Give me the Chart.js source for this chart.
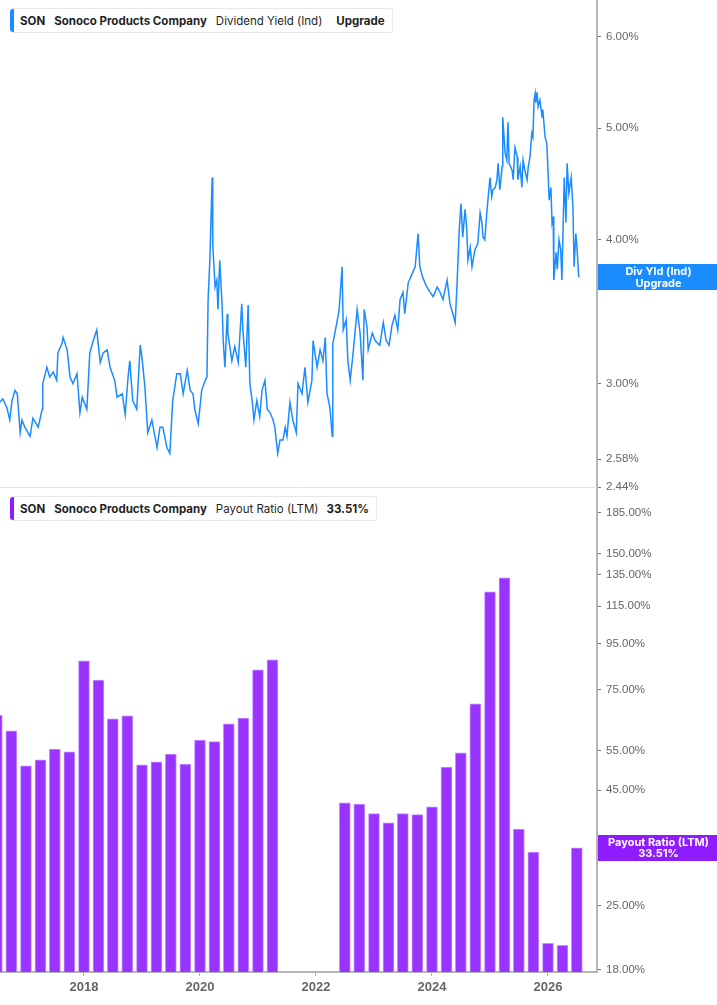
<!DOCTYPE html>
<html>
<head>
<meta charset="utf-8">
<script src="https://cdn.jsdelivr.net/npm/chart.js@4.4.1/dist/chart.umd.min.js"></script>
<style>
  html, body { margin: 0; padding: 0; background: #fff; }
  #wrap { position: relative; width: 717px; height: 1005px; overflow: hidden; }
  canvas { position: absolute; left: 0; }
  #yieldChart { top: 0; z-index: 2; }
  #payoutChart { top: 488px; z-index: 1; }
  .legend {
    position: absolute; left: 10px; height: 25px; box-sizing: border-box; z-index: 3;
    background: #fff; border: 1px solid #e9e9e9; border-left: none; border-radius: 3px;
    font-family: Inter, "Noto Sans", sans-serif; font-size: 11.5px; color: #1f1f1f;
    display: flex; align-items: center; padding: 0 7px 0 10px; white-space: nowrap;
  }
  .legend::before {
    content: ""; position: absolute; left: 0; top: 0; bottom: 0; width: 4px; border-radius: 3px 0 0 3px;
  }
  .legend.blue::before { background: #1a8cff; }
  .legend.purple::before { background: #8f1cff; }
  .legend b { font-weight: 700; }
  .legend span { margin-right: 9px; }
  .legend span:last-child { margin-right: 0; }
</style>
</head>
<body>
<div id="wrap">
  <canvas id="yieldChart" width="717" height="500"></canvas>
  <canvas id="payoutChart" width="717" height="517"></canvas>
  <div class="legend blue" style="top:8px;">
    <span><b>SON</b></span><span><b>Sonoco Products Company</b></span><span style="margin-right:14px">Dividend Yield (Ind)</span><span><b>Upgrade</b></span>
  </div>
  <div class="legend purple" style="top:496px;">
    <span><b>SON</b></span><span><b>Sonoco Products Company</b></span><span style="margin-right:8px">Payout Ratio (LTM)</span><span><b>33.51%</b></span>
  </div>
</div>
<script>
// Dividend yield (Ind), %
const yieldDates = [
  2016.55, 2016.60, 2016.67, 2016.72, 2016.76, 2016.81, 2016.85, 2016.90, 2016.93, 2016.98,
  2017.07, 2017.12, 2017.21, 2017.28, 2017.29, 2017.36, 2017.41, 2017.47, 2017.53, 2017.55,
  2017.62, 2017.64, 2017.71, 2017.76, 2017.81, 2017.88, 2017.93, 2017.97, 2018.05, 2018.10,
  2018.16, 2018.22, 2018.28, 2018.33, 2018.40, 2018.45, 2018.53, 2018.57, 2018.66, 2018.71,
  2018.76, 2018.79, 2018.84, 2018.91, 2018.97, 2019.00, 2019.05, 2019.10, 2019.17, 2019.26,
  2019.31, 2019.36, 2019.43, 2019.48, 2019.53, 2019.60, 2019.66, 2019.71, 2019.78, 2019.83,
  2019.88, 2019.91, 2019.97, 2020.03, 2020.09, 2020.12, 2020.14, 2020.17, 2020.21, 2020.22,
  2020.26, 2020.29, 2020.31, 2020.34, 2020.38, 2020.40, 2020.43, 2020.47, 2020.48, 2020.55,
  2020.60, 2020.66, 2020.72, 2020.74, 2020.79, 2020.83, 2020.86, 2020.90, 2020.93, 2020.98,
  2021.03, 2021.07, 2021.12, 2021.16, 2021.21, 2021.26, 2021.29, 2021.34, 2021.38, 2021.43,
  2021.47, 2021.50, 2021.55, 2021.60, 2021.66, 2021.69, 2021.76, 2021.81, 2021.86, 2021.93,
  2021.95, 2022.02, 2022.07, 2022.12, 2022.16, 2022.19, 2022.24, 2022.28, 2022.29, 2022.36,
  2022.40, 2022.45, 2022.47, 2022.52, 2022.55, 2022.59, 2022.64, 2022.71, 2022.76, 2022.81,
  2022.83, 2022.88, 2022.90, 2022.97, 2023.02, 2023.07, 2023.10, 2023.16, 2023.21, 2023.26,
  2023.31, 2023.36, 2023.41, 2023.45, 2023.50, 2023.53, 2023.59, 2023.66, 2023.71, 2023.76,
  2023.79, 2023.84, 2023.91, 2023.97, 2024.02, 2024.09, 2024.14, 2024.19, 2024.26, 2024.31,
  2024.36, 2024.40, 2024.43, 2024.47, 2024.50, 2024.53, 2024.57, 2024.60, 2024.62, 2024.66,
  2024.69, 2024.74, 2024.79, 2024.83, 2024.86, 2024.88, 2024.91, 2024.95, 2024.97, 2025.00,
  2025.03, 2025.05, 2025.09, 2025.12, 2025.14, 2025.17, 2025.21, 2025.22, 2025.26, 2025.29,
  2025.31, 2025.33, 2025.38, 2025.40, 2025.43, 2025.47, 2025.48, 2025.52, 2025.55, 2025.57,
  2025.60, 2025.64, 2025.66, 2025.69, 2025.72, 2025.74, 2025.76, 2025.78, 2025.79, 2025.81,
  2025.83, 2025.86, 2025.90, 2025.91, 2025.95, 2025.98, 2026.00, 2026.02, 2026.05, 2026.07,
  2026.09, 2026.10, 2026.14, 2026.16, 2026.19, 2026.22, 2026.24, 2026.28, 2026.31, 2026.33,
  2026.36, 2026.40, 2026.43, 2026.45, 2026.48, 2026.50, 2026.53
];
const yieldValues = [
  2.89, 2.91, 2.86, 2.79, 2.90, 2.96, 2.94, 2.72, 2.79, 2.75,
  2.70, 2.80, 2.75, 2.85, 3.00, 3.10, 3.04, 3.07, 3.02, 3.19,
  3.25, 3.29, 3.21, 3.04, 3.00, 3.06, 2.83, 2.92, 2.85, 3.19,
  3.27, 3.34, 3.13, 3.19, 3.21, 3.10, 3.02, 2.92, 2.94, 2.82,
  3.04, 3.14, 2.90, 2.85, 3.24, 3.16, 2.98, 2.72, 2.79, 2.64,
  2.75, 2.75, 2.64, 2.61, 2.90, 3.06, 3.06, 2.94, 3.08, 2.96,
  2.94, 2.85, 2.77, 2.96, 3.02, 3.04, 3.55, 3.84, 4.53, 3.97,
  3.64, 3.69, 3.48, 3.84, 3.52, 3.27, 3.10, 3.45, 3.32, 3.14,
  3.23, 3.13, 3.52, 3.34, 3.10, 3.51, 3.00, 2.90, 2.79, 2.90,
  2.81, 2.96, 3.02, 2.85, 2.83, 2.79, 2.75, 2.61, 2.68, 2.68,
  2.75, 2.70, 2.89, 2.79, 2.72, 3.00, 2.94, 3.10, 2.89, 3.02,
  3.27, 3.10, 3.21, 3.14, 3.29, 2.94, 2.86, 2.70, 3.25, 3.39,
  3.48, 3.79, 3.34, 3.41, 3.14, 3.02, 3.19, 3.48, 3.32, 3.02,
  3.48, 3.36, 3.21, 3.32, 3.27, 3.25, 3.24, 3.39, 3.27, 3.24,
  3.37, 3.44, 3.34, 3.55, 3.60, 3.45, 3.67, 3.74, 3.79, 4.05,
  3.79, 3.71, 3.64, 3.60, 3.57, 3.64, 3.60, 3.55, 3.69, 3.52,
  3.45, 3.39, 3.64, 4.08, 4.30, 4.02, 4.25, 4.08, 3.84, 3.94,
  3.79, 3.92, 3.97, 4.22, 4.14, 4.02, 4.00, 4.25, 4.36, 4.53,
  4.36, 4.42, 4.44, 4.51, 4.66, 4.42, 4.63, 5.11, 4.76, 4.69,
  5.06, 4.66, 4.60, 4.51, 4.81, 4.72, 4.51, 4.63, 4.44, 4.69,
  4.60, 4.51, 4.63, 4.72, 4.95, 4.91, 5.29, 5.36, 5.26, 5.37,
  5.22, 5.29, 5.11, 5.19, 4.91, 4.85, 4.60, 4.33, 4.44, 4.14,
  4.19, 3.69, 3.90, 3.77, 4.00, 3.92, 3.69, 4.53, 4.14, 4.66,
  4.39, 4.53, 4.27, 3.79, 4.05, 3.94, 3.71
];

// Payout ratio (LTM), % -- quarter ends, null = no bar
const payoutQuarters = [
  '2016-06-30', '2016-09-30', '2016-12-31', '2017-03-31', '2017-06-30', '2017-09-30', '2017-12-31',
  '2018-03-31', '2018-06-30', '2018-09-30', '2018-12-31', '2019-03-31', '2019-06-30', '2019-09-30',
  '2019-12-31', '2020-03-31', '2020-06-30', '2020-09-30', '2020-12-31', '2021-03-31', '2021-06-30',
  '2021-09-30', '2021-12-31', '2022-03-31', '2022-06-30', '2022-09-30', '2022-12-31', '2023-03-31',
  '2023-06-30', '2023-09-30', '2023-12-31', '2024-03-31', '2024-06-30', '2024-09-30', '2024-12-31',
  '2025-03-31', '2025-06-30', '2025-09-30', '2025-12-31', '2026-03-31', '2026-06-30'
];
const payoutValues = [
  66.0, 60.9, 50.9, 52.5, 55.5, 54.7, 87.0,
  78.9, 64.7, 65.7, 51.2, 52.0, 54.1, 51.4,
  58.1, 57.6, 63.1, 65.0, 83.1, 87.4, null,
  null, null, null, 42.2, 41.9, 39.9, 38.1,
  39.9, 39.7, 41.3, 50.6, 54.4, 69.9, 123.7,
  132.8, 36.9, 32.8, 20.6, 20.4, 33.51
];

// axis ticks
const yearTicks = [2018, 2020, 2022, 2024, 2026];
const yieldTicks = [2.44, 2.58, 3, 4, 5, 6];
const payoutTicks = [18, 25, 35, 45, 55, 75, 95, 115, 135, 150, 185];

const xMin = 2016.552, xMax = 2026.845;
const axisGray = '#b5b5b5';
const labelGray = '#666';

function toYear(s) {
  const [y, m, d] = s.split('-').map(Number);
  return y + (m - 1 + d / 31) / 12;
}

// coloured value box on the right axis at the last value
const lastValueBox = {
  id: 'lastValueBox',
  afterDraw(chart, args, opts) {
    const ds = chart.data.datasets[0].data;
    let last = null;
    for (let i = ds.length - 1; i >= 0; i--) { if (ds[i].y != null) { last = ds[i].y; break; } }
    const yPx = chart.scales.y.getPixelForValue(last);
    const ctx = chart.ctx;
    const x0 = chart.chartArea.right + 1;
    const w = chart.width - x0;
    ctx.save();
    ctx.fillStyle = opts.color;
    ctx.fillRect(x0, Math.round(yPx - 13), w, 26);
    ctx.fillStyle = '#fff';
    ctx.font = 'bold 11px Inter, "Noto Sans", sans-serif';
    ctx.textAlign = 'center';
    ctx.textBaseline = 'middle';
    ctx.fillText(opts.line1, x0 + w / 2 + 1, yPx - 5.5);
    ctx.fillText(opts.line2, x0 + w / 2 + 1, yPx + 6);
    ctx.restore();
  }
};

// faint separator under the top panel
const bottomRule = {
  id: 'bottomRule',
  beforeDatasetsDraw(chart) {
    const { ctx, chartArea } = chart;
    ctx.save();
    ctx.strokeStyle = '#e4e4e4';
    ctx.lineWidth = 1;
    ctx.beginPath();
    ctx.moveTo(0, chartArea.bottom + 0.5);
    ctx.lineTo(chartArea.right, chartArea.bottom + 0.5);
    ctx.stroke();
    ctx.restore();
  }
};

Chart.defaults.font.family = '"Liberation Sans", Arial, sans-serif';

function noPad(s) { s.paddingTop = 0; s.paddingBottom = 0; s.paddingLeft = 0; s.paddingRight = 0; }

// top canvas is 500 tall so the 2.44% label can hang over the lower panel
new Chart(document.getElementById('yieldChart'), {
  type: 'line',
  data: {
    datasets: [{
      data: yieldDates.map((d, i) => ({ x: d, y: yieldValues[i] })),
      borderColor: '#1a8cff',
      borderWidth: 1.5,
      pointRadius: 0,
      tension: 0
    }]
  },
  options: {
    responsive: false,
    animation: false,
    devicePixelRatio: 1,
    layout: { padding: { top: 0, left: 0, right: 0, bottom: 13 } },
    plugins: {
      legend: { display: false },
      tooltip: { enabled: false },
      lastValueBox: { color: '#1a8cff', line1: 'Div Yld (Ind)', line2: 'Upgrade' }
    },
    scales: {
      x: { type: 'linear', min: xMin, max: xMax, display: false },
      y: {
        type: 'logarithmic', position: 'right', min: 2.44, max: 6.46, bounds: 'data',
        afterBuildTicks(s) { s.ticks = yieldTicks.map(v => ({ value: v })); },
        afterFit(s) { s.width = 120; noPad(s); },
        grid: { drawOnChartArea: false, tickLength: 4, tickColor: '#777' },
        border: { color: axisGray, width: 2 },
        ticks: { callback: v => v.toFixed(2) + '%', color: labelGray, font: { size: 11.5 }, padding: 5 }
      }
    }
  },
  plugins: [lastValueBox, bottomRule]
});

new Chart(document.getElementById('payoutChart'), {
  type: 'bar',
  data: {
    datasets: [{
      data: payoutQuarters.map((q, i) => ({ x: toYear(q), y: payoutValues[i] })),
      backgroundColor: '#9933ff',
      borderColor: '#c590ff',
      borderWidth: 1,
      barThickness: 11
    }]
  },
  options: {
    responsive: false,
    animation: false,
    devicePixelRatio: 1,
    layout: { padding: 0 },
    plugins: {
      legend: { display: false },
      tooltip: { enabled: false },
      lastValueBox: { color: '#8f1cff', line1: 'Payout Ratio (LTM)', line2: '33.51%' }
    },
    scales: {
      x: {
        type: 'linear', min: xMin, max: xMax, offset: false,
        afterBuildTicks(s) { s.ticks = yearTicks.map(v => ({ value: v })); },
        afterFit(s) { s.height = 33; noPad(s); },
        grid: { drawOnChartArea: false, offset: false, tickLength: 4, tickColor: axisGray },
        border: { color: axisGray, width: 2 },
        ticks: { callback: v => String(v), color: labelGray, font: { size: 13, weight: 'bold' }, padding: 4, maxRotation: 0 }
      },
      y: {
        type: 'logarithmic', position: 'right', min: 17.8, max: 210, bounds: 'data',
        afterBuildTicks(s) { s.ticks = payoutTicks.map(v => ({ value: v })); },
        afterFit(s) { s.width = 120; noPad(s); },
        grid: { drawOnChartArea: false, tickLength: 4, tickColor: '#777' },
        border: { color: axisGray, width: 2 },
        ticks: { callback: v => v.toFixed(2) + '%', color: labelGray, font: { size: 11.5 }, padding: 5 }
      }
    }
  },
  plugins: [lastValueBox]
});
</script>
</body>
</html>
